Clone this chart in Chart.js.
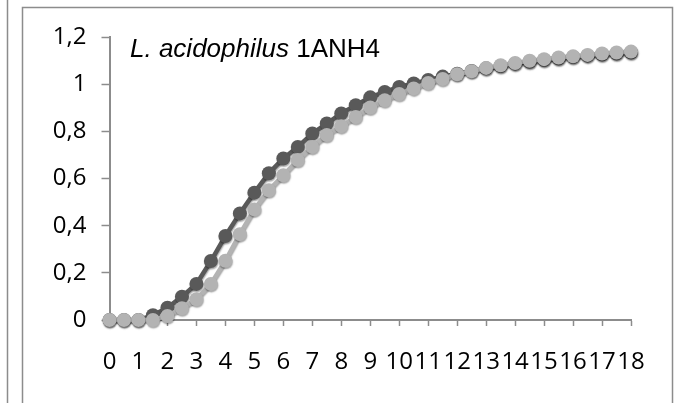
<!DOCTYPE html>
<html>
<head>
<meta charset="utf-8">
<script src="https://cdn.jsdelivr.net/npm/chart.js@4.4.1/dist/chart.umd.min.js"></script>
<style>
  html, body { margin: 0; padding: 0; background: #fff; }
  #wrap { position: relative; width: 678px; height: 403px; }
  #growthChart { display: block; }
  .chart-label {
    position: absolute; left: 130px; top: 35px;
    font-family: "Liberation Sans", Arial, sans-serif;
    font-size: 26px; line-height: 26px; color: #000; white-space: nowrap;
  }
</style>
</head>
<body>
<div id="wrap">
  <canvas id="growthChart" width="678" height="403"></canvas>
  <div class="chart-label"><i>L. acidophilus</i> 1ANH4</div>
</div>
<script>
// growth curves, time (h) vs OD
const hours = [0, 0.5, 1, 1.5, 2, 2.5, 3, 3.5, 4, 4.5, 5, 5.5, 6, 6.5, 7, 7.5, 8, 8.5,
               9, 9.5, 10, 10.5, 11, 11.5, 12, 12.5, 13, 13.5, 14, 14.5, 15, 15.5,
               16, 16.5, 17, 17.5, 18];
const darkSeries = [0, 0, 0, 0.02, 0.052, 0.099, 0.153, 0.25, 0.356, 0.452, 0.54, 0.622,
                    0.685, 0.734, 0.791, 0.833, 0.876, 0.911, 0.944, 0.967, 0.988, 1.003,
                    1.018, 1.032, 1.044, 1.056, 1.067, 1.077, 1.087, 1.095, 1.102, 1.109,
                    1.115, 1.121, 1.126, 1.13, 1.134];
const lightSeries = [0, 0, 0, 0, 0.017, 0.05, 0.088, 0.153, 0.251, 0.364, 0.469, 0.55,
                     0.614, 0.678, 0.734, 0.784, 0.822, 0.861, 0.901, 0.932, 0.958, 0.982,
                     1.005, 1.022, 1.042, 1.055, 1.069, 1.08, 1.09, 1.099, 1.106, 1.113,
                     1.118, 1.124, 1.13, 1.134, 1.138];
const yTicks = [0, 0.2, 0.4, 0.6, 0.8, 1, 1.2];

const axisGrey = '#8c8c8c';
const tickFont = { family: "'Open Sans', sans-serif", size: 24 };

const toPoints = (vals) => vals.map((v, i) => ({ x: hours[i], y: v }));

// outer frames like the pasted panel
const framePlugin = {
    id: 'frames',
    beforeDraw(chart) {
        const ctx = chart.ctx;
        ctx.save();
        ctx.fillStyle = '#fff';
        ctx.fillRect(0, 0, chart.width, chart.height);
        ctx.strokeStyle = axisGrey;
        ctx.lineWidth = 1.5;
        ctx.beginPath();
        ctx.moveTo(7.5, 0);
        ctx.lineTo(7.5, chart.height);
        ctx.stroke();
        ctx.strokeRect(22.5, 7.5, 650, chart.height + 20);
        ctx.restore();
    }
};

// soft marker shadow
const shadowPlugin = {
    id: 'markerShadow',
    beforeDatasetDraw(chart) {
        const ctx = chart.ctx;
        ctx.save();
        ctx.shadowColor = 'rgba(0,0,0,0.35)';
        ctx.shadowOffsetX = 0.5;
        ctx.shadowOffsetY = 1.5;
        ctx.shadowBlur = 1.5;
    },
    afterDatasetDraw(chart) {
        chart.ctx.restore();
    }
};

new Chart(document.getElementById('growthChart'), {
    type: 'line',
    data: {
        datasets: [{
            label: 'dark',
            data: toPoints(darkSeries),
            borderColor: '#595959',
            backgroundColor: '#595959',
            borderWidth: 4.5,
            pointRadius: 7,
            pointBorderWidth: 0,
            pointBackgroundColor: '#595959',
            tension: 0,
            clip: false,
            order: 2
        }, {
            label: 'light',
            data: toPoints(lightSeries),
            borderColor: '#b3b3b3',
            backgroundColor: '#b3b3b3',
            borderWidth: 4.5,
            pointRadius: 7,
            pointBorderWidth: 0,
            pointBackgroundColor: '#b3b3b3',
            tension: 0,
            clip: false,
            order: 1
        }]
    },
    options: {
        responsive: false,
        animation: false,
        devicePixelRatio: 1,
        layout: { padding: { left: 22, right: 47, top: 37, bottom: 0 } },
        plugins: {
            legend: { display: false },
            tooltip: { enabled: false }
        },
        scales: {
            x: {
                type: 'linear',
                min: 0,
                max: 18,
                afterFit: (scale) => { scale.height = 83; },
                ticks: {
                    stepSize: 1,
                    autoSkip: false,
                    maxRotation: 0,
                    padding: 22,
                    color: '#000',
                    font: tickFont
                },
                grid: {
                    drawOnChartArea: false,
                    drawTicks: true,
                    tickLength: 6,
                    tickWidth: 1.5,
                    tickColor: axisGrey
                },
                border: { color: axisGrey, width: 2 }
            },
            y: {
                min: 0,
                max: 1.2,
                afterFit: (scale) => { scale.width = 87.5; },
                afterBuildTicks: (scale) => {
                    scale.ticks = yTicks.map(v => ({ value: v }));
                },
                ticks: {
                    padding: 15,
                    color: '#000',
                    font: tickFont,
                    callback: (v) => String(Number(v.toFixed(1))).replace('.', ',')
                },
                grid: {
                    drawOnChartArea: false,
                    drawTicks: true,
                    tickLength: 8,
                    tickWidth: 1.5,
                    tickColor: axisGrey
                },
                border: { color: axisGrey, width: 2 }
            }
        }
    },
    plugins: [framePlugin, shadowPlugin]
});
</script>
</body>
</html>
